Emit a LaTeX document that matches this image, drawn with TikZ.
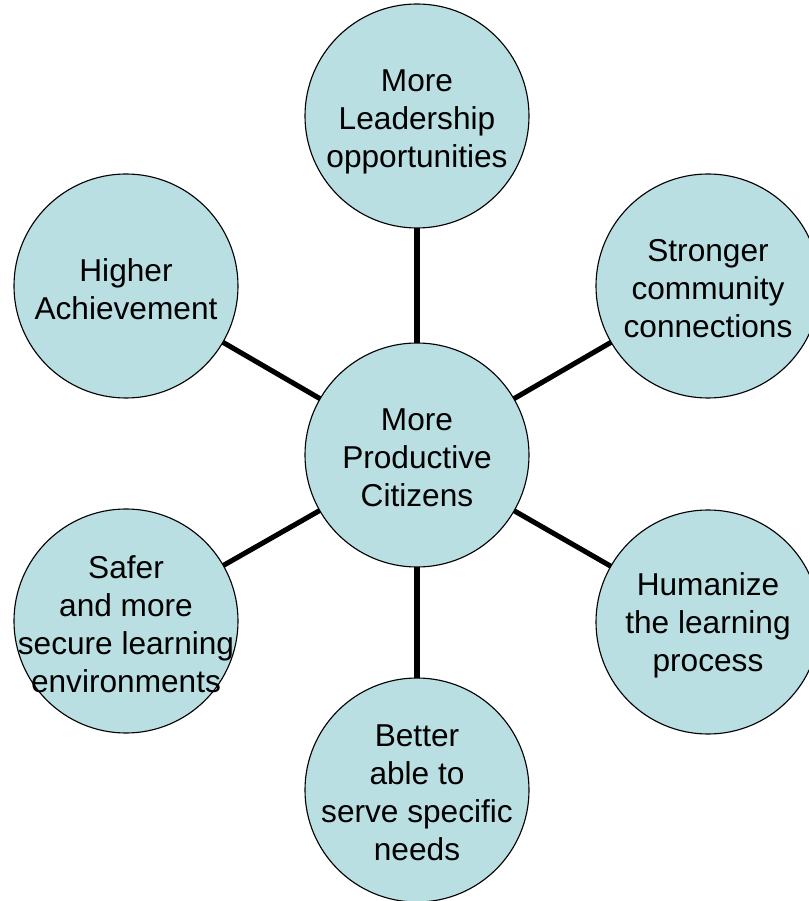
\documentclass[tikz,border=0pt]{standalone}
\usepackage{fontspec}
\setmainfont{Liberation Sans}
\definecolor{ringFill}{HTML}{BADFE3}
\usetikzlibrary{backgrounds}

\begin{document}
\begin{tikzpicture}[
  bubble/.style={circle, draw=black, line width=0.8pt, fill=ringFill,
    minimum size=5.6cm, inner sep=0pt},
  txt/.style={align=center, text=black, inner sep=0pt, yshift=-0.075cm,
    font=\fontsize{22.5}{27}\selectfont},
  spoke/.style={line width=3.6pt, color=black}
]
  \useasboundingbox (-10.425,-11.15) rectangle (9.775,11.375);

  \node[bubble, label={[txt]center:{More\\Productive\\Citizens}}] (hub) at (0,0) {};
  \node[bubble, label={[txt, yshift=-0.08cm]center:{More\\Leadership\\opportunities}}] (lead) at (0,8.475) {};
  \node[bubble, label={[txt]center:{Stronger\\community\\connections}}] (community) at (7.275,4.225) {};
  \node[bubble, label={[txt]center:{Humanize\\the learning\\process}}] (humanize) at (7.275,-4.175) {};
  \node[bubble, label={[txt]center:{Better\\able to\\serve specific\\needs}}] (needs) at (0,-8.375) {};
  \node[bubble, label={[txt]center:{Safer\\and more\\secure learning\\environments}}] (safer) at (-7.275,-4.15) {};
  \node[bubble, label={[txt]center:{Higher\\Achievement}}] (higher) at (-7.275,4.225) {};

  % Spokes behind the circles
  \begin{scope}[on background layer]
    \foreach \n in {lead,community,humanize,needs,safer,higher}
      \draw[spoke] (hub.center) -- (\n.center);
  \end{scope}
\end{tikzpicture}
\end{document}
